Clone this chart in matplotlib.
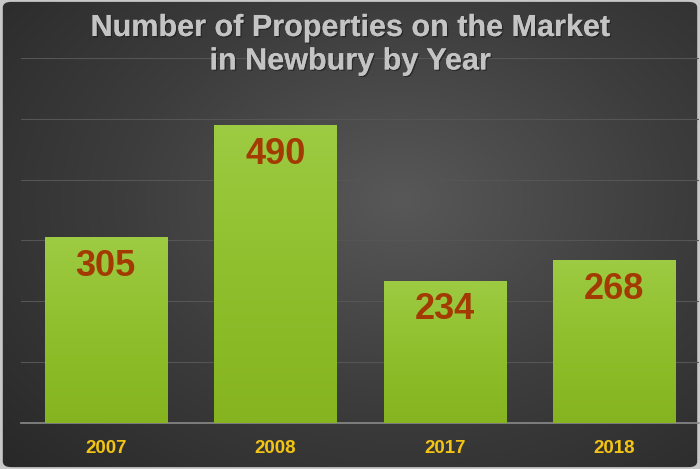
import numpy as np
import matplotlib
matplotlib.use("Agg")
import matplotlib.pyplot as plt
from matplotlib.patches import FancyBboxPatch
from matplotlib.colors import LinearSegmentedColormap
import matplotlib.patheffects as pe

years = ["2007", "2008", "2017", "2018"]
counts = [305, 490, 234, 268]
title = "Number of Properties on the Market\nin Newbury by Year"

plt.rcParams["font.family"] = ["Liberation Sans", "DejaVu Sans"]

fig = plt.figure(figsize=(7, 4.69), dpi=100)
fig.patch.set_facecolor("#c8c8c8")

# dark radial background
bg = fig.add_axes([0, 0, 1, 1], zorder=0)
bg.set_axis_off()
yy, xx = np.mgrid[0:469, 0:700]
r = np.sqrt(((xx - 400) / 560.0) ** 2 + ((yy - 200) / 400.0) ** 2)
r = np.clip(r, 0, 1)
bg_cmap = LinearSegmentedColormap.from_list("bg", ["#585858", "#3d3d3d", "#282828"])
frame = FancyBboxPatch((0.004, 0.004), 0.992, 0.992, boxstyle="round,pad=0,rounding_size=0.012",
                       transform=bg.transAxes, facecolor="none", edgecolor="none")
bg.add_patch(frame)
im = bg.imshow(r, cmap=bg_cmap, extent=[0, 1, 0, 1], aspect="auto", origin="upper")
im.set_clip_path(frame)
bg.set_xlim(0, 1)
bg.set_ylim(0, 1)

ax = fig.add_axes([21 / 700, 46 / 469, 678 / 700, 365 / 469], zorder=1)
ax.patch.set_alpha(0)
x = np.arange(len(years))
bars = ax.bar(x, counts, width=0.72, color="#92c232", zorder=2)

bar_cmap = LinearSegmentedColormap.from_list("bar", ["#9dcb43", "#8fbf2c", "#86b421"])
grad = np.linspace(0, 1, 256).reshape(-1, 1)
for b in bars:
    x0, y0 = b.get_x(), b.get_y()
    w, h = b.get_width(), b.get_height()
    g = ax.imshow(grad, cmap=bar_cmap, extent=[x0, x0 + w, y0, y0 + h],
                  aspect="auto", origin="upper", zorder=3)
    g.set_clip_path(b)

for xi, v in zip(x, counts):
    ax.annotate(str(v), (xi, v), xytext=(0, -21), textcoords="offset points",
                ha="center", va="center", fontsize=26, fontweight="bold",
                color="#a33a02", zorder=4)

ax.set_xlim(-0.5, 3.5)
ax.set_ylim(0, 600)
ax.set_yticks(np.arange(100, 601, 100))
ax.yaxis.grid(True, color="#555555", linewidth=0.8, zorder=1)
ax.set_axisbelow(True)
ax.tick_params(axis="y", left=False, labelleft=False)
ax.tick_params(axis="x", length=0, pad=12)
ax.set_xticks(x)
ax.set_xticklabels(years, fontsize=13.5, fontweight="bold", color="#f4c414")
for s in ["top", "right", "left"]:
    ax.spines[s].set_visible(False)
ax.spines["bottom"].set_color("#8a8a8a")
ax.spines["bottom"].set_linewidth(1.2)

fig.text(0.5, 1 - 13 / 469, title, ha="center", va="top", fontsize=22,
         fontweight="bold", color="#c4c4c4", linespacing=1.15,
         path_effects=[pe.withSimplePatchShadow(offset=(1, -1), shadow_rgbFace="#1a1a1a", alpha=0.6),
                       pe.Normal()])

fig.savefig("out.png", dpi=100, facecolor=fig.get_facecolor())
